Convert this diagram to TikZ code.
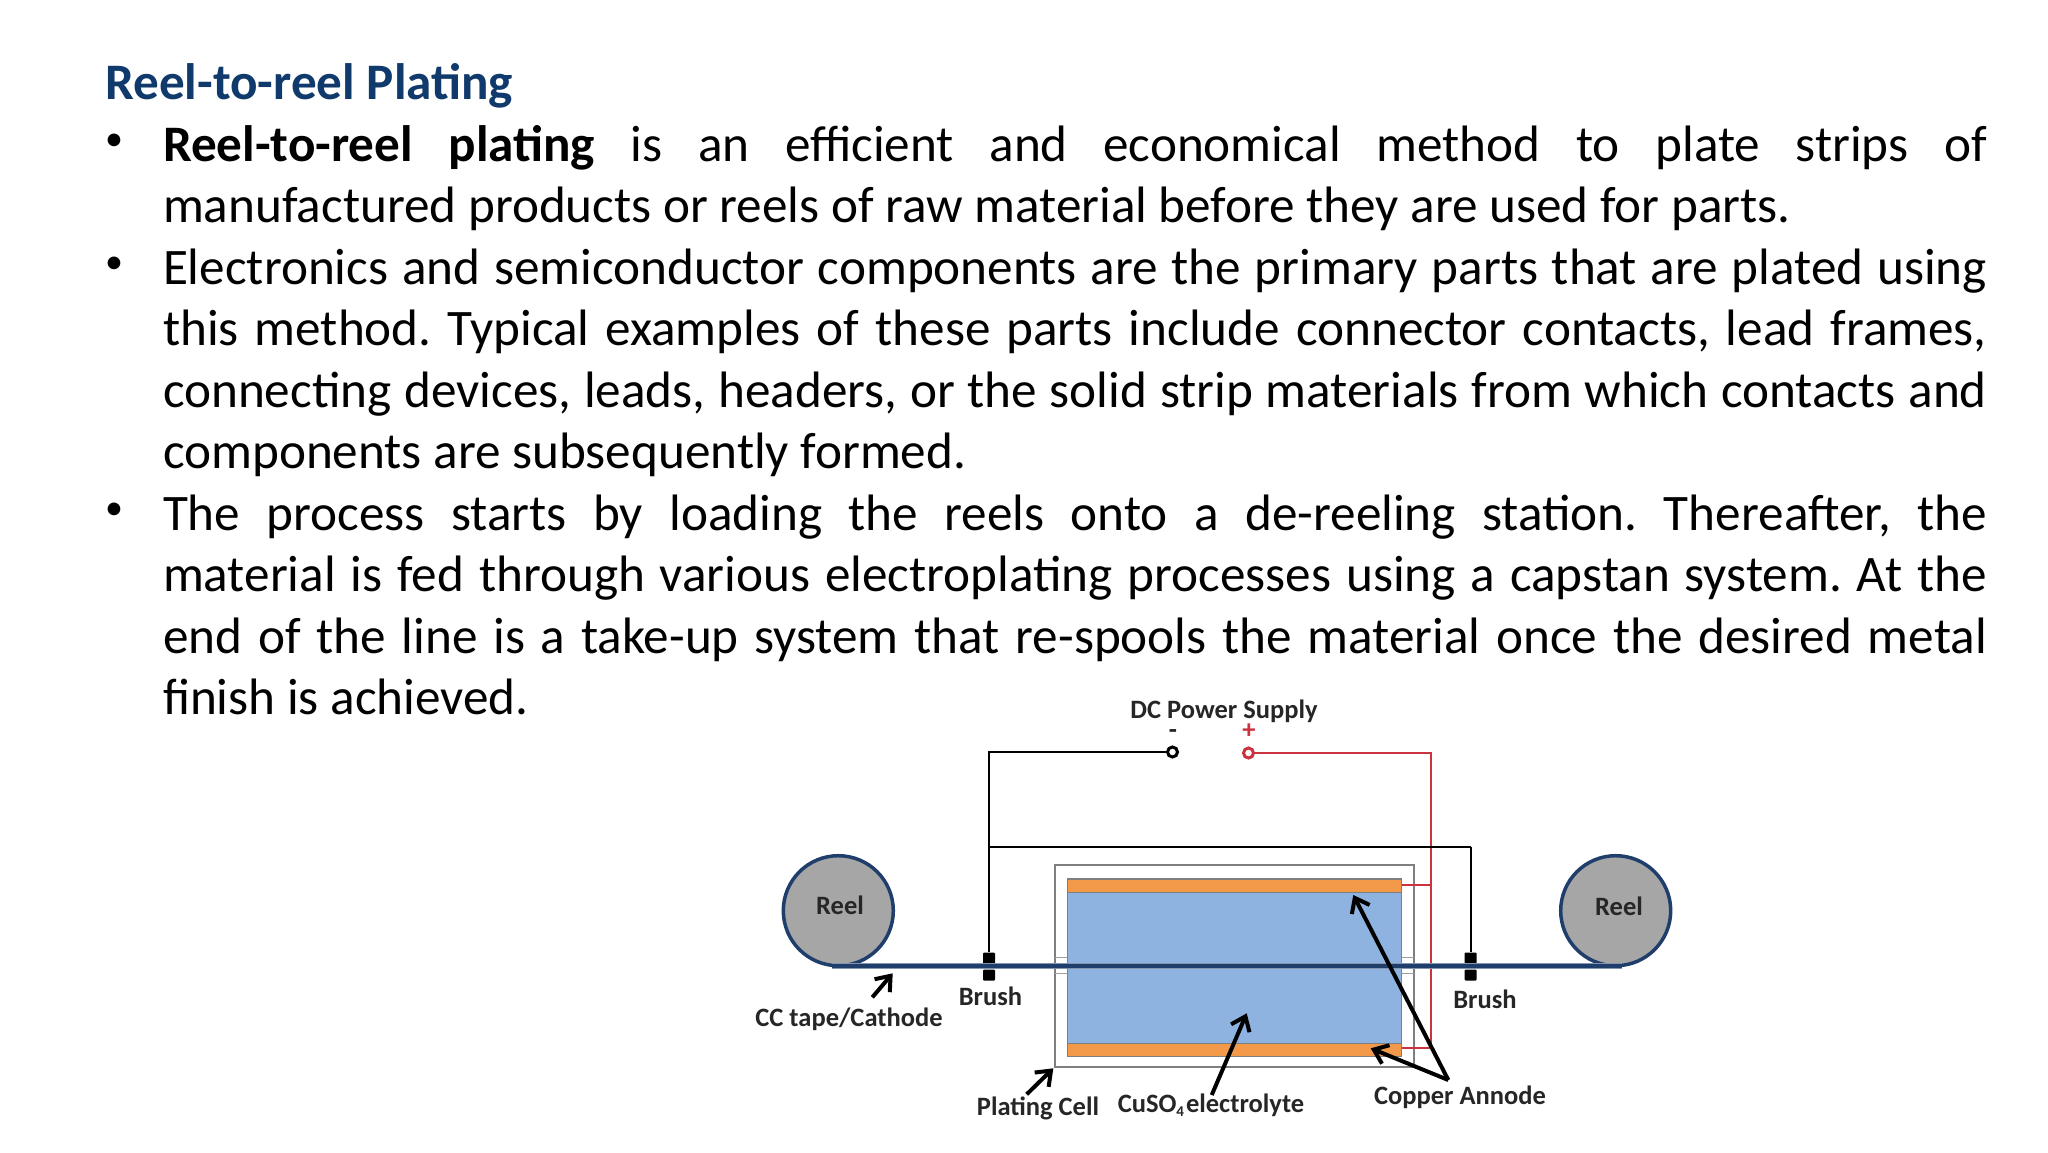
\documentclass[tikz,border=0pt]{standalone}
\usepackage{fontspec}
\setmainfont{Carlito}
\usetikzlibrary{arrows.meta}
\definecolor{navy}{HTML}{1F3E6B}
\definecolor{titleblue}{HTML}{0F3A6B}
\definecolor{reelgray}{HTML}{A6A6A6}
\definecolor{cellgray}{HTML}{7F7F7F}
\definecolor{bath}{HTML}{8EB3E0}
\definecolor{anode}{HTML}{F29A4A}
\definecolor{wirered}{HTML}{CC3340}
\newcommand{\bodyline}[1]{\makebox[1824pt][s]{#1}}
\frenchspacing
\tikzset{
  x=1pt,y=-1pt,
  bodytext/.style={anchor=base west,inner sep=0pt,outer sep=0pt,font=\fontsize{51.2}{60}\selectfont\frenchspacing,text=black},
  bullet/.style={anchor=base,inner sep=0pt,outer sep=0pt,font=\fontsize{36}{40}\selectfont},
  lab/.style={anchor=base,inner sep=0pt,outer sep=0pt,font=\fontsize{26.5}{30}\selectfont\bfseries,text=black!85},
  reel/.style={circle,draw=navy,fill=reelgray,line width=3.5pt,minimum size=110pt,inner sep=0pt},
  brushpart/.style={rectangle,fill=black,rounded corners=1pt,minimum width=12pt,minimum height=11pt,inner sep=0pt},
  terminal/.style={circle,draw=#1,fill=white,line width=3pt,minimum size=10pt,inner sep=0pt},
  wire/.style={draw=black,line width=2pt},
  thinwire/.style={draw=black,line width=1.6pt},
  redwire/.style={draw=wirered,line width=2pt},
  pointer/.style={draw=black,line width=4pt,-{Straight Barb[length=13pt,width=20pt,line width=4pt]}},
  cellwall/.style={draw=cellgray,line width=2.2pt},
}
\begin{document}
\begin{tikzpicture}
\useasboundingbox (0,0) rectangle (2048,1152);
\fill[white] (0,0) rectangle (2048,1152);
% text
\node[anchor=base west,inner sep=0pt,font=\fontsize{51.2}{60}\selectfont\bfseries,text=titleblue] (title) at (105,99.5) {Reel-to-reel Plating};
\node[bullet] (b1) at (114,150.5) {•};
\node[bullet] (b2) at (114,273.5) {•};
\node[bullet] (b3) at (114,519.5) {•};
\node[bodytext] (l1) at (163,161.5) {\bodyline{\textbf{Reel-to-reel plating} is an efficient and economical method to plate strips of}};
\node[bodytext] (l2) at (163,222.7) {manufactured products or reels of raw material before they are used for parts.};
\node[bodytext] (l3) at (163,284.4) {\bodyline{Electronics and semiconductor components are the primary parts that are plated using}};
\node[bodytext] (l4) at (163,345.9) {\bodyline{this method. Typical examples of these parts include connector contacts, lead frames,}};
\node[bodytext] (l5) at (163,407.3) {\bodyline{connecting devices, leads, headers, or the solid strip materials from which contacts and}};
\node[bodytext] (l6) at (163,468.8) {components are subsequently formed.};
\node[bodytext] (l7) at (163,530.2) {\bodyline{The process starts by loading the reels onto a de-reeling station. Thereafter, the}};
\node[bodytext] (l8) at (163,591.7) {\bodyline{material is fed through various electroplating processes using a capstan system. At the}};
\node[bodytext] (l9) at (163,653.1) {\bodyline{end of the line is a take-up system that re-spools the material once the desired metal}};
\node[bodytext] (l10) at (163,714.6) {finish is achieved.};
% plating cell
\draw[cellwall] (1055,865) rectangle (1414,1067);
\draw[cellgray!75,line width=1.5pt] (1055,957.5) -- (1067,957.5) (1055,973.5) -- (1067,973.5);
\draw[cellgray!75,line width=1.5pt] (1402,957.5) -- (1414,957.5) (1402,973.5) -- (1414,973.5);
\draw[cellgray,line width=1.5pt,fill=bath] (1067.3,879) rectangle (1401.7,1056);
\draw[cellgray,line width=1pt,fill=anode] (1067.3,879) rectangle (1401.7,892);
\draw[cellgray,line width=1pt,fill=anode] (1067.3,1043) rectangle (1401.7,1056);
% reels
\node[reel] (reelL) at (838.3,910.7) {};
\node[reel] (reelR) at (1615.7,910.7) {};
\node[lab] at (840,914) {Reel};
\node[lab] at (1619,915) {Reel};
% terminals
\node[terminal=black] (neg) at (1172.5,752) {};
\node[terminal=wirered] (pos) at (1248.5,753) {};
% brushes
\node[brushpart] (bL1) at (989,958) {};
\node[brushpart] (bL2) at (989,975) {};
\node[brushpart] (bR1) at (1470.5,958) {};
\node[brushpart] (bR2) at (1470.5,975) {};
% red wiring
\coordinate (rc) at (1430.7,753);
\coordinate (rt) at (1430.7,885);
\coordinate (rb) at (1430.7,1048.3);
\coordinate (at) at (1401.7,885);
\coordinate (ab) at (1401.7,1048.3);
\draw[redwire] (pos) -- (rc) -- (rb) -- (ab);
\draw[redwire] (rt) -- (at);
% black wiring
\coordinate (wc) at (989,752);
\coordinate (wj) at (989,846.7);
\coordinate (wr) at (1470.5,846.7);
\draw[wire] (neg) -- (wc) -- (bL1);
\draw[thinwire] (wj) -- (wr);
\draw[wire] (wr) -- (bR1);
% tape
\coordinate (tL) at (832,966);
\coordinate (tR) at (1622,966);
\draw[navy!55,line width=6pt] (tL) -- (tR);
\draw[navy,line width=4pt] (tL) -- (tR);
% labels
\node[lab] (dc) at (1224,718.5) {DC Power Supply};
\node[lab] at (1173,738) {-};
\node[lab,text=wirered] at (1249,738) {+};
\node[lab] (brL) at (990.5,1005.5) {Brush};
\node[lab] (brR) at (1485,1008.5) {Brush};
\node[lab] (cc) at (849,1026.5) {CC tape/Cathode};
\node[lab] (pc) at (1038,1115) {Plating Cell};
\node[lab] (cu) at (1211,1112.5) {CuSO\raisebox{-4pt}{\fontsize{15}{15}\selectfont 4}\hspace{2pt}electrolyte};
\node[lab] (ca) at (1460,1104.5) {Copper Annode};
% pointers
\coordinate (p1a) at (872.3,997.3); \coordinate (p1b) at (892.7,973.3);
\coordinate (p2a) at (1026.7,1094.3); \coordinate (p2b) at (1053.3,1068.3);
\coordinate (p3a) at (1211.7,1095); \coordinate (p3b) at (1246.7,1013.3);
\coordinate (p4a) at (1448.3,1080); \coordinate (p4b) at (1353.3,895); \coordinate (p4c) at (1370.7,1048.3);
\draw[pointer] (p1a) -- (p1b);
\draw[pointer] (p2a) -- (p2b);
\draw[pointer] (p3a) -- (p3b);
\draw[pointer] (p4a) -- (p4b);
\draw[pointer] (p4a) -- (p4c);
\end{tikzpicture}
\end{document}
